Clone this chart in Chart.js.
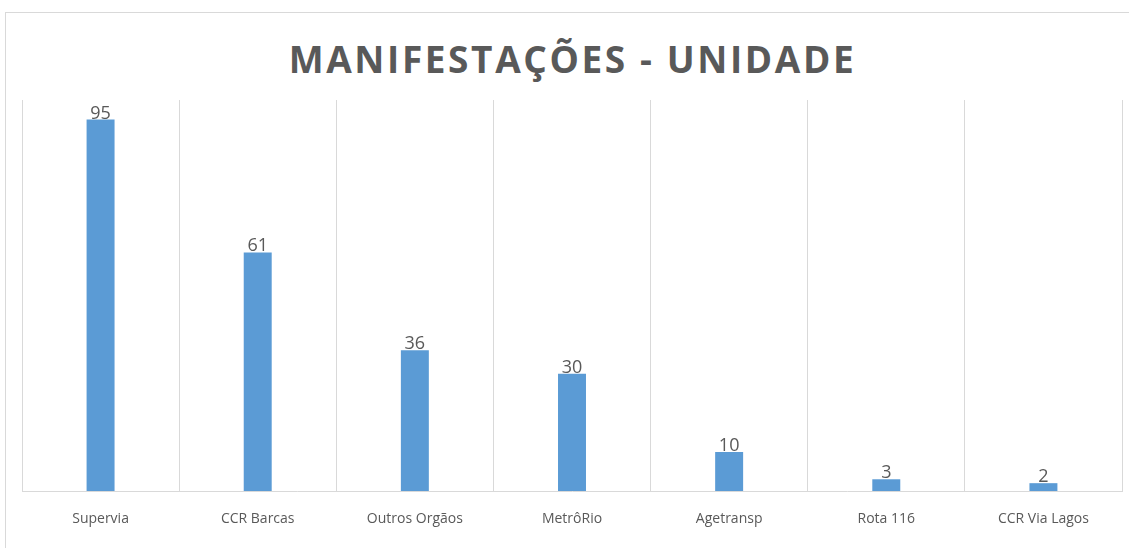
<!DOCTYPE html>
<html>
<head>
<meta charset="utf-8">
<script src="https://cdn.jsdelivr.net/npm/chart.js@4.4.0/dist/chart.umd.min.js"></script>
<style>
  html, body { margin: 0; padding: 0; background: #fff; }
  #wrap { position: relative; width: 1129px; height: 548px; overflow: hidden; }
  #frame { position: absolute; left: 5px; top: 12px; width: 1130px; height: 545px; border: 1px solid #d9d9d9; box-sizing: border-box; }
  #title { position: absolute; left: 8px; top: 34px; width: 1129px; text-align: center;
    font-family: "Open Sans", sans-serif; font-weight: 700; font-size: 37px; line-height: 50px;
    letter-spacing: 2.6px; color: #595959; }
  canvas { position: absolute; left: 0; top: 0; }
</style>
</head>
<body>
<div id="wrap">
  <div id="frame"></div>
  <div id="title">MANIFESTAÇÕES - UNIDADE</div>
  <canvas id="chart" width="1129" height="548"></canvas>
</div>
<script>
// dados
const unidades = ['Supervia', 'CCR Barcas', 'Outros Orgãos', 'MetrôRio', 'Agetransp', 'Rota 116', 'CCR Via Lagos'];
const manifestacoes = [95, 61, 36, 30, 10, 3, 2];

// rótulos de valor acima das barras
const valueLabels = {
  id: 'valueLabels',
  afterDatasetsDraw(chart) {
    const ctx = chart.ctx;
    const meta = chart.getDatasetMeta(0);
    ctx.save();
    ctx.font = '18px "Open Sans"';
    ctx.fillStyle = '#595959';
    ctx.textAlign = 'center';
    ctx.textBaseline = 'alphabetic';
    meta.data.forEach((bar, i) => {
      ctx.fillText(String(manifestacoes[i]), bar.x, bar.y - 1);
    });
    ctx.restore();
  }
};

new Chart(document.getElementById('chart').getContext('2d'), {
  type: 'bar',
  data: {
    labels: unidades,
    datasets: [{ data: manifestacoes, backgroundColor: '#5B9BD5', borderWidth: 0,
      categoryPercentage: 1, barPercentage: 0.178 }]
  },
  options: {
    responsive: false,
    animation: false,
    layout: { padding: { left: 22, right: 7, top: 100, bottom: 0 } },
    plugins: { legend: { display: false }, title: { display: false }, tooltip: { enabled: false } },
    scales: {
      x: {
        grid: { offset: true, color: '#d9d9d9', lineWidth: 1, drawTicks: false },
        border: { color: '#d9d9d9', width: 1 },
        ticks: { color: '#595959', font: { family: 'Open Sans', size: 14 }, padding: 20, maxRotation: 0 },
        afterFit(scale) { scale.height = 57; }
      },
      y: { display: false, min: 0, max: 100 }
    }
  },
  plugins: [valueLabels]
});
</script>
</body>
</html>
